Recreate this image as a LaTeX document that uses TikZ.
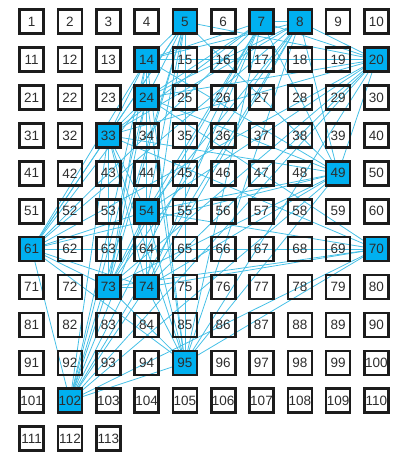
\documentclass[tikz,border=0pt]{standalone}
\usepackage{fontspec}
\setmainfont{Liberation Sans}
\usetikzlibrary{backgrounds}
\definecolor{hl}{RGB}{0,176,240}
\definecolor{edgecol}{RGB}{70,192,230}
\definecolor{boxline}{RGB}{28,28,28}
\definecolor{txt}{RGB}{45,45,45}
\tikzset{
  cell/.style={draw=boxline, line width=2.6pt, minimum width=24pt, minimum height=24pt,
    inner sep=0pt, text=txt, font=\fontsize{13.5}{14}\selectfont},
  link/.style={draw=edgecol, line width=0.8pt},
  c5/.style={fill=hl}, c7/.style={fill=hl}, c8/.style={fill=hl}, c14/.style={fill=hl},
  c20/.style={fill=hl}, c24/.style={fill=hl}, c33/.style={fill=hl}, c49/.style={fill=hl},
  c54/.style={fill=hl}, c61/.style={fill=hl}, c70/.style={fill=hl}, c73/.style={fill=hl},
  c74/.style={fill=hl}, c95/.style={fill=hl}, c102/.style={fill=hl}
}
\begin{document}
\begin{tikzpicture}[x=1pt,y=1pt]
\useasboundingbox (0,0) rectangle (401,-456);
\foreach \n in {1,...,113} {
  \pgfmathtruncatemacro\cc{mod(\n-1,10)}
  \pgfmathtruncatemacro\rr{div(\n-1,10)}
  \node[cell, c\n/.try] (n\n) at ({31.7+38.3*\cc},{-21.7-37.9*\rr}) {\n};
}
\begin{pgfonlayer}{background}
\foreach \a/\bl in {
  5/{14,20,24,33,49,54,61,73,74,95,102},
  7/{8,14,20,24,33,49,54,61,73,74,95,102},
  8/{14,20,24,33,49,54,61,73,74,95,102},
  14/{20,24,33,49,54,61,73,74,95,102},
  20/{24,33,49,54,61,73,74,95,102},
  24/{33,49,54,61,70,73,74,95,102},
  33/{49,54,61,70,73,74,95,102},
  49/{54,61,73,74,95,102},
  54/{61,70,73,74,95,102},
  61/{70,73,74,95,102},
  70/{73,74,95,102},
  73/{74,95,102},
  74/{95,102},
  95/{102}} {
  \foreach \b in \bl {
    \draw[link] (n\a.center) -- (n\b.center);
  }
}
\end{pgfonlayer}
\end{tikzpicture}
\end{document}
